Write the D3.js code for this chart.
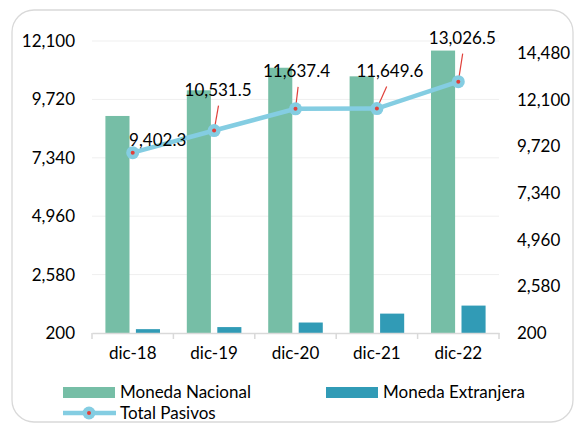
<!DOCTYPE html>
<html>
<head>
    <meta charset="utf-8" />
    <style>
        body { margin: 0; background: #fff; }
        text { font-family: Lato, "Open Sans", sans-serif; font-size: 17px; fill: #000; }
    </style>
    <script src="https://d3js.org/d3.v7.min.js"></script>
</head>
<body>
<script>

// data
let categories = ["dic-18", "dic-19", "dic-20", "dic-21", "dic-22"];
let monedaNacional = [9045, 10090, 11010, 10660, 11710];
let monedaExtranjera = [357, 441, 627, 990, 1317];
let totalPasivos = [9402.3, 10531.5, 11637.4, 11649.6, 13026.5];
let leftTicks = [200, 2580, 4960, 7340, 9720, 12100];
let rightTicks = [200, 2580, 4960, 7340, 9720, 12100, 14480];

// label offsets from each point (dx, dy of text baseline centre), and whether a leader is drawn
let labelOffset = [[25, -7, false], [4, -35, true], [1, -32, true], [13, -32, true], [4, -38, true]];

let W = 577, H = 426;
let plot = { left: 92, right: 499, top: 41, bottom: 333 };

let svg = d3.select("body").append("svg")
    .attr("width", W)
    .attr("height", H);

// frame
svg.append("rect")
    .attr("x", 12).attr("y", 10)
    .attr("width", 561).attr("height", 412)
    .attr("rx", 22)
    .attr("fill", "#fff")
    .attr("stroke", "#d9d9d9")
    .attr("stroke-width", 1.3);

let x0 = d3.scaleBand()
    .domain(categories)
    .range([plot.left, plot.right]);

let x1 = d3.scaleBand()
    .domain(["mn", "me"])
    .range([0, x0.bandwidth()])
    .paddingInner(0.21)
    .paddingOuter(0.44);

let yLeft = d3.scaleLinear().domain([200, 12100]).range([plot.bottom, plot.top]);
let yRight = d3.scaleLinear().domain([200, 15100]).range([plot.bottom, plot.top]);

// gridlines
svg.append("g")
    .selectAll("line")
    .data(leftTicks.slice(1))
    .enter()
    .append("line")
    .attr("x1", plot.left).attr("x2", plot.right)
    .attr("y1", d => yLeft(d)).attr("y2", d => yLeft(d))
    .attr("stroke", "#efefef")
    .attr("stroke-width", 1);

// left axis labels
svg.append("g")
    .selectAll("text")
    .data(leftTicks)
    .enter()
    .append("text")
    .attr("x", 75)
    .attr("y", d => yLeft(d) + 6)
    .attr("text-anchor", "end")
    .text(d => d3.format(",")(d));

// right axis labels
svg.append("g")
    .selectAll("text")
    .data(rightTicks)
    .enter()
    .append("text")
    .attr("x", 517)
    .attr("y", d => yRight(d) + 6)
    .text(d => d3.format(",")(d));

// bars
let g = svg.append("g");
categories.forEach((c, i) => {
    g.append("rect")
        .attr("x", x0(c) + x1("mn"))
        .attr("y", yLeft(monedaNacional[i]))
        .attr("width", x1.bandwidth())
        .attr("height", plot.bottom - yLeft(monedaNacional[i]))
        .attr("fill", "#76bea6");
    g.append("rect")
        .attr("x", x0(c) + x1("me"))
        .attr("y", yLeft(monedaExtranjera[i]))
        .attr("width", x1.bandwidth())
        .attr("height", plot.bottom - yLeft(monedaExtranjera[i]))
        .attr("fill", "#319bb6");
});

// x axis
let xAxis = d3.axisBottom(x0).tickSize(0).tickPadding(14);
let xg = svg.append("g")
    .attr("transform", "translate(0," + plot.bottom + ")")
    .call(xAxis);
xg.select(".domain").attr("stroke", "#d9d9d9").attr("stroke-width", 1.5);
xg.selectAll("text").style("font-size", "17px").style("font-family", "Lato, sans-serif").attr("fill", "#000");
xg.selectAll("line.sep")
    .data(categories.concat(["end"]))
    .enter()
    .append("line")
    .attr("class", "sep")
    .attr("x1", (d, i) => plot.left + i * x0.bandwidth())
    .attr("x2", (d, i) => plot.left + i * x0.bandwidth())
    .attr("y1", 0).attr("y2", 6)
    .attr("stroke", "#d9d9d9")
    .attr("stroke-width", 1.5);

// line
let cx = (d, i) => x0(categories[i]) + x0.bandwidth() / 2;
let line = d3.line()
    .x(cx)
    .y(d => yRight(d));

svg.append("path")
    .datum(totalPasivos)
    .attr("d", line)
    .attr("fill", "none")
    .attr("stroke", "#84cde2")
    .attr("stroke-width", 4.5);

// leaders
svg.append("g")
    .selectAll("line")
    .data(totalPasivos.map((v, i) => ({ v: v, i: i })).filter(d => labelOffset[d.i][2]))
    .enter()
    .append("line")
    .attr("x1", d => cx(d.v, d.i))
    .attr("y1", d => yRight(d.v))
    .attr("x2", d => cx(d.v, d.i) + labelOffset[d.i][0] * 0.6 + 2)
    .attr("y2", d => yRight(d.v) + labelOffset[d.i][1] + 10)
    .attr("stroke", "#e0403a")
    .attr("stroke-width", 1.2);

// markers
let mk = svg.append("g");
mk.selectAll("circle.o")
    .data(totalPasivos)
    .enter()
    .append("circle")
    .attr("class", "o")
    .attr("cx", cx)
    .attr("cy", d => yRight(d))
    .attr("r", 6.5)
    .attr("fill", "#84cde2");
mk.selectAll("circle.i")
    .data(totalPasivos)
    .enter()
    .append("circle")
    .attr("class", "i")
    .attr("cx", cx)
    .attr("cy", d => yRight(d))
    .attr("r", 2)
    .attr("fill", "#e0403a");

// data labels
svg.append("g")
    .selectAll("text")
    .data(totalPasivos)
    .enter()
    .append("text")
    .attr("x", (d, i) => cx(d, i) + labelOffset[i][0])
    .attr("y", (d, i) => yRight(d) + labelOffset[i][1])
    .attr("text-anchor", "middle")
    .text(d => d3.format(",.1f")(d));

// legend
let lg = svg.append("g");
lg.append("rect").attr("x", 63).attr("y", 387).attr("width", 52).attr("height", 11).attr("fill", "#76bea6");
lg.append("text").attr("x", 120).attr("y", 398).text("Moneda Nacional");
lg.append("rect").attr("x", 326).attr("y", 387).attr("width", 52).attr("height", 11).attr("fill", "#319bb6");
lg.append("text").attr("x", 383).attr("y", 398).text("Moneda Extranjera");
lg.append("line").attr("x1", 63).attr("x2", 116).attr("y1", 413).attr("y2", 413)
    .attr("stroke", "#84cde2").attr("stroke-width", 4.5);
lg.append("circle").attr("cx", 89).attr("cy", 413).attr("r", 6.5).attr("fill", "#84cde2");
lg.append("circle").attr("cx", 89).attr("cy", 413).attr("r", 2).attr("fill", "#e0403a");
lg.append("text").attr("x", 120).attr("y", 419).text("Total Pasivos");

</script>
</body>
</html>
